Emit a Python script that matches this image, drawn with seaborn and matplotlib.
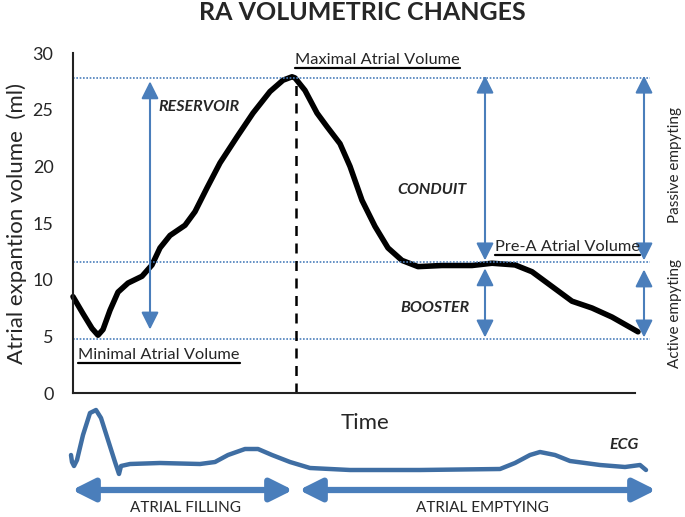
import matplotlib
matplotlib.use('Agg')
import matplotlib.pyplot as plt
import seaborn as sns
import numpy as np
import pandas as pd
from matplotlib.lines import Line2D

# Volume curve (time in arbitrary units, volume in ml)
time = [0, 10, 19, 25, 30, 37, 45, 55, 69, 79, 87, 97, 112, 122, 134, 147, 164,
        180, 197, 210, 219, 222, 232, 244, 254, 267, 277, 289, 302, 315, 329, 345,
        369, 399, 419, 442, 459, 479, 499, 519, 539, 565]
volume = [8.5, 7.0, 5.7, 5.1, 5.6, 7.3, 8.9, 9.7, 10.3, 11.3, 12.8, 13.9, 14.8,
          16.0, 18.1, 20.3, 22.6, 24.7, 26.6, 27.6, 27.9, 27.8, 26.7, 24.7, 23.5,
          22.0, 20.0, 17.0, 14.7, 12.8, 11.7, 11.15, 11.25, 11.25, 11.45, 11.3,
          10.7, 9.4, 8.1, 7.5, 6.7, 5.4]

# ECG trace (same time units, arbitrary amplitude)
ecg_time = [-2, -1, 1, 4, 10, 17, 23, 28, 35, 42, 46, 48, 57, 87, 127, 142, 155,
            172, 185, 199, 217, 237, 277, 347, 427, 442, 457, 467, 482, 497, 527,
            552, 567, 573]
ecg_amp = [15, 8, 4, 10, 35, 57, 60, 52, 30, 8, -4, 4, 6, 7, 6, 8, 15, 21, 21, 15,
           8, 2, 0, 0, 1, 7, 15, 18, 15, 9, 5, 3, 5, 0]

max_vol = 27.8
pre_a_vol = 11.6
min_vol = 4.8
peak_time = 223

BLUE = '#4a7ebb'
ECG_BLUE = '#3f6ea3'

sns.set_style('white')
plt.rcParams['font.family'] = ['Lato', 'DejaVu Sans']

fig = plt.figure(figsize=(6.85, 5.17), dpi=100)
ax = fig.add_axes([73 / 685, 1 - 393 / 517, 562 / 685, 340 / 517])

df = pd.DataFrame({'time': time, 'volume': volume})
sns.lineplot(data=df, x='time', y='volume', ax=ax, color='black', lw=4,
             sort=False, estimator=None, clip_on=False, solid_capstyle='round',
             solid_joinstyle='round')

ax.set_xlim(0, 562)
ax.set_ylim(0, 30)
ax.set_yticks(range(0, 31, 5))
ax.set_xticks([])
ax.tick_params(axis='y', length=0, labelsize=13, pad=14)
ax.set_xlabel('')
ax.set_ylabel('Atrial expantion volume  (ml)', fontsize=16, labelpad=4)
for s in ['top', 'right']:
    ax.spines[s].set_visible(False)
for s in ['left', 'bottom']:
    ax.spines[s].set_color('#222222')
    ax.spines[s].set_linewidth(1.5)

# reference levels
for lvl in [max_vol, pre_a_vol, min_vol]:
    ax.hlines(lvl, 0, 577, colors=BLUE, linestyles=(0, (1, 1)), lw=1.2, clip_on=False)
ax.vlines(peak_time, 0, max_vol, colors='black', linestyles=(0, (4, 3)), lw=1.8)

def varrow(x, y0, y1):
    ax.annotate('', xy=(x, y1), xytext=(x, y0),
                arrowprops=dict(arrowstyle='<|-|>,head_length=0.7,head_width=0.35',
                                color=BLUE, lw=1.5, mutation_scale=15,
                                shrinkA=0, shrinkB=0),
                annotation_clip=False)

varrow(77, 5.6, 27.5)
varrow(412, 11.7, 28.0)
varrow(412, 4.9, 11.0)
varrow(571, 11.7, 28.0)
varrow(571, 4.9, 10.9)

bi = dict(fontsize=11.5, fontweight='bold', fontstyle='italic', va='center')
ax.text(85, 25.2, 'RESERVOIR', **bi)
ax.text(324, 17.9, 'CONDUIT', **bi)
ax.text(327, 7.5, 'BOOSTER', **bi)

ul = []
ul.append(ax.text(222, 29.4, 'Maximal Atrial Volume', fontsize=11.8, va='center'))
ul.append(ax.text(5, 3.35, 'Minimal Atrial Volume', fontsize=11.8, va='center'))
ul.append(ax.text(422, 12.9, 'Pre-A Atrial Volume', fontsize=11.8, va='center'))

ax.text(602, 20.1, 'Passive empyting', rotation=90, fontsize=11, ha='center',
        va='center', clip_on=False)
ax.text(602, 7.0, 'Active empyting', rotation=90, fontsize=11, ha='center',
        va='center', clip_on=False)

fig.text(362 / 685, 1 - 13 / 517, 'RA VOLUMETRIC CHANGES', fontsize=18,
         fontweight='bold', ha='center', va='center')

# ECG panel
ax2 = fig.add_axes([73 / 685, 0, 562 / 685, 117 / 517])
ax2.set_xlim(0, 562)
ax2.set_ylim(-47, 70)
ax2.axis('off')
ecg = pd.DataFrame({'t': ecg_time, 'a': ecg_amp})
sns.lineplot(data=ecg, x='t', y='a', ax=ax2, color=ECG_BLUE, lw=3.2, sort=False,
             estimator=None, clip_on=False)
ax2.text(292, 47, 'Time', fontsize=16, ha='center', va='center')
ax2.text(551, 25, 'ECG', fontsize=11.5, fontweight='bold', fontstyle='italic',
         ha='center', va='center')

def harrow(x0, x1):
    ax2.annotate('', xy=(x1, -20), xytext=(x0, -20),
                 arrowprops=dict(arrowstyle='<|-|>,head_length=0.9,head_width=0.45',
                                 color=BLUE, lw=4.5, mutation_scale=15,
                                 shrinkA=0, shrinkB=0),
                 annotation_clip=False)

harrow(-1, 220)
harrow(226, 583)
ax2.text(112, -38, 'ATRIAL FILLING', fontsize=11, ha='center', va='center')
ax2.text(409, -38, 'ATRIAL EMPTYING', fontsize=11, ha='center', va='center')

# underline the level labels
fig.canvas.draw()
inv = fig.transFigure.inverted()
for t in ul:
    bb = t.get_window_extent()
    (x0, y0), (x1, _) = inv.transform([[bb.x0, bb.y0], [bb.x1, bb.y1]])
    fig.add_artist(Line2D([x0, x1], [y0 - 1 / 517, y0 - 1 / 517],
                          color='black', lw=1.6, transform=fig.transFigure))

fig.savefig('out.png', dpi=100)
